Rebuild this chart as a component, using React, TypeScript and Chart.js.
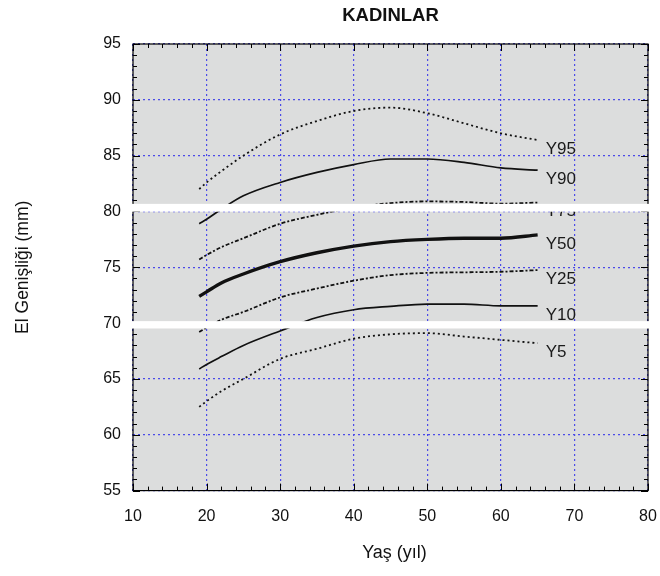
import React, { useEffect, useRef } from 'react';
import { Chart, registerables } from 'chart.js';
Chart.register(...registerables);

const ages = [19, 20, 22, 25, 30, 35, 40, 45, 50, 55, 60, 65];
const y95 = [82.0, 82.6, 83.6, 85.0, 86.9, 88.1, 89.0, 89.3, 88.8, 87.9, 87.0, 86.4];
const y90 = [78.9, 79.3, 80.2, 81.4, 82.6, 83.5, 84.2, 84.7, 84.7, 84.4, 83.9, 83.7];
const y75 = [75.7, 76.1, 76.8, 77.6, 78.9, 79.7, 80.35, 80.75, 80.9, 80.85, 80.7, 80.8];
const y50 = [72.4, 72.8, 73.6, 74.4, 75.5, 76.3, 76.9, 77.3, 77.5, 77.6, 77.6, 77.9];
const y25 = [69.2, 69.6, 70.3, 71.0, 72.3, 73.1, 73.8, 74.3, 74.5, 74.55, 74.6, 74.75];
const y10 = [65.9, 66.3, 67.0, 68.0, 69.3, 70.5, 71.2, 71.5, 71.7, 71.7, 71.55, 71.55];
const y5 = [62.5, 63.0, 63.9, 65.0, 66.8, 67.7, 68.6, 69.0, 69.1, 68.8, 68.5, 68.2];

const seriesNames = ['Y95', 'Y90', 'Y75', 'Y50', 'Y25', 'Y10', 'Y5'];
const seriesValues = [y95, y90, y75, y50, y25, y10, y5];

const xMin = 10, xMax = 80, xStep = 10, xMinor = 2;
const yMin = 55, yMax = 95, yStep = 5, yMinor = 1;

const titleText = 'KADINLAR';
const xTitle = 'Yaş (yıl)';
const yTitle = 'El Genişliği (mm)';

// white stripes present in the reference (value ranges on y axis)
const whiteBands = [[80.68, 79.98], [70.18, 69.52]];

const FONT = "'Liberation Sans', Arial, Helvetica, sans-serif";

const styles = [
  { width: 1.8, dash: [2, 3] },
  { width: 1.7, dash: [] },
  { width: 1.8, dash: [4, 2, 2, 2] },
  { width: 3.4, dash: [] },
  { width: 1.8, dash: [4, 2, 2, 2] },
  { width: 1.7, dash: [] },
  { width: 1.8, dash: [2, 3] },
];

const decorPlugin = {
  id: 'decor',
  beforeDraw(chart: any) {
    const { ctx, chartArea: a } = chart;
    ctx.save();
    ctx.fillStyle = '#dcdddd';
    ctx.fillRect(a.left, a.top, a.right - a.left, a.bottom - a.top);
    ctx.restore();
  },
  afterDatasetsDraw(chart: any) {
    const { ctx, chartArea: a, scales } = chart;
    const xs = scales.x, ys = scales.y;
    ctx.save();
    ctx.strokeStyle = '#000';
    ctx.lineWidth = 1.2;
    ctx.setLineDash([]);
    ctx.strokeRect(a.left, a.top, a.right - a.left, a.bottom - a.top);
    ctx.lineWidth = 1;
    ctx.beginPath();
    for (let v = xMin; v <= xMax; v += xMinor) {
      const px = Math.round(xs.getPixelForValue(v)) + 0.5;
      const len = v % xStep === 0 ? 7 : 4;
      ctx.moveTo(px, a.bottom);
      ctx.lineTo(px, a.bottom - len);
      ctx.moveTo(px, a.top);
      ctx.lineTo(px, a.top + len);
    }
    for (let v = yMin; v <= yMax; v += yMinor) {
      const py = Math.round(ys.getPixelForValue(v)) + 0.5;
      const len = v % yStep === 0 ? 7 : 4;
      ctx.moveTo(a.left, py);
      ctx.lineTo(a.left + len, py);
      ctx.moveTo(a.right, py);
      ctx.lineTo(a.right - len, py);
    }
    ctx.stroke();

    ctx.fillStyle = '#1a1a1a';
    ctx.font = `17px ${FONT}`;
    ctx.textAlign = 'left';
    ctx.textBaseline = 'middle';
    seriesNames.forEach((name, i) => {
      const vals = seriesValues[i];
      const px = xs.getPixelForValue(ages[ages.length - 1]) + 8;
      const py = ys.getPixelForValue(vals[vals.length - 1]) + 9;
      ctx.fillText(name, px, py);
    });

    ctx.fillStyle = '#111';
    ctx.textAlign = 'center';
    ctx.font = `bold 18.5px ${FONT}`;
    ctx.fillText(titleText, (a.left + a.right) / 2, 16);
    ctx.font = `18px ${FONT}`;
    ctx.fillText(xTitle, (a.left + a.right) / 2 + 4, 553);
    ctx.save();
    ctx.translate(23, (a.top + a.bottom) / 2);
    ctx.rotate(-Math.PI / 2);
    ctx.font = `17.5px ${FONT}`;
    ctx.fillText(yTitle, 0, 0);
    ctx.restore();
    ctx.restore();
  },
  afterDraw(chart: any) {
    const { ctx, scales } = chart;
    const ys = scales.y;
    ctx.save();
    ctx.fillStyle = '#ffffff';
    whiteBands.forEach(([hi, lo]) => {
      const t = ys.getPixelForValue(hi);
      const b = ys.getPixelForValue(lo);
      ctx.fillRect(128, t, chart.width - 128, b - t);
    });
    ctx.restore();
  },
};

export default function App() {
  const ref = useRef<HTMLCanvasElement>(null);
  useEffect(() => {
    if (!ref.current) return;
    const datasets = seriesNames.map((name, i) => ({
      label: name,
      data: ages.map((a, j) => ({ x: a, y: seriesValues[i][j] })),
      borderColor: '#111',
      borderWidth: styles[i].width,
      borderDash: styles[i].dash,
      pointRadius: 0,
      fill: false,
      cubicInterpolationMode: 'monotone' as const,
    }));
    const chart = new Chart(ref.current, {
      type: 'line',
      data: { datasets },
      plugins: [decorPlugin],
      options: {
        animation: false,
        responsive: false,
        layout: { padding: { top: 44, right: 12, left: 0, bottom: 0 } },
        plugins: { legend: { display: false }, tooltip: { enabled: false }, title: { display: false } },
        scales: {
          x: {
            type: 'linear',
            min: xMin,
            max: xMax,
            ticks: { stepSize: xStep, color: '#111', font: { size: 16, family: FONT }, padding: 16, maxRotation: 0, autoSkip: false },
            grid: { color: '#4b4be8', lineWidth: 1.2, drawTicks: false },
            border: { display: false, dash: [2, 3] },
            afterFit: (s: any) => { s.height = 85.4; s.paddingRight = 0; s.paddingLeft = 0; },
          },
          y: {
            type: 'linear',
            min: yMin,
            max: yMax,
            ticks: { stepSize: yStep, color: '#111', font: { size: 16, family: FONT }, padding: 12 },
            grid: { color: '#4b4be8', lineWidth: 1.2, drawTicks: false },
            border: { display: false, dash: [2, 3] },
            afterFit: (s: any) => { s.width = 133; s.paddingTop = 0; s.paddingBottom = 0; },
          },
        },
      },
    });
    return () => chart.destroy();
  }, []);
  return (
    <div style={{ position: 'absolute', left: 0, top: 0, width: 660, height: 576, background: '#fff' }}>
      <canvas ref={ref} width={660} height={576} style={{ width: 660, height: 576 }} />
    </div>
  );
}
